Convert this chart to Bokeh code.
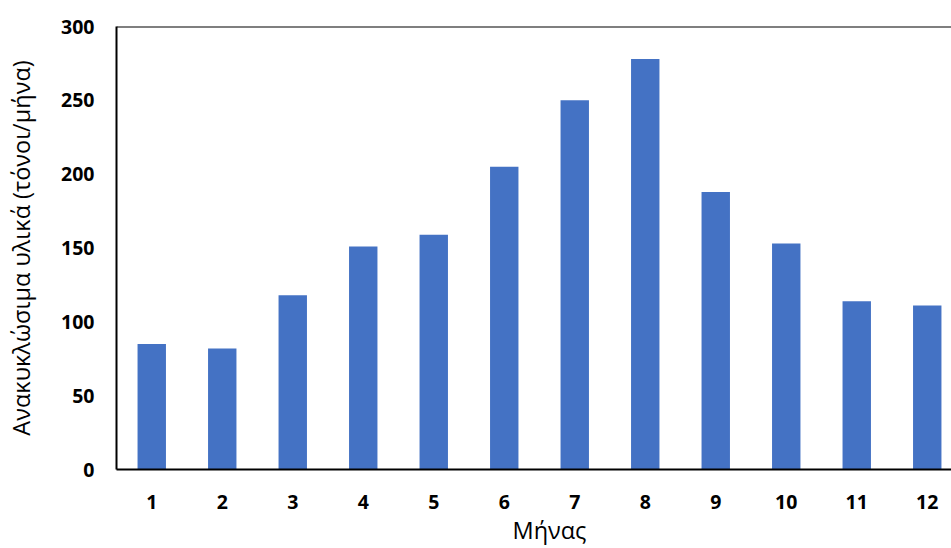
from bokeh.plotting import figure
from bokeh.models import Range1d, Span, FixedTicker, Title
from bokeh.embed import file_html
from bokeh.resources import INLINE

months = [1, 2, 3, 4, 5, 6, 7, 8, 9, 10, 11, 12]
values = [85, 82, 118, 151, 159, 205, 250, 278, 188, 153, 114, 111]
y_ticks = [0, 50, 100, 150, 200, 250, 300]
x_label = "Μήνας"
y_label = "Ανακυκλώσιμα υλικά (τόνοι/μήνα)"

p = figure(width=951, height=548, output_backend="svg", toolbar_location=None,
           x_range=Range1d(0.5, 12.344), y_range=Range1d(0, 300),
           min_border_left=116, min_border_top=26, min_border_bottom=79,
           min_border_right=0)
p.outline_line_color = None
p.background_fill_color = "white"
p.border_fill_color = "white"

p.vbar(x=months, top=values, width=0.403, color="#4472C4", line_color=None)

p.add_layout(Span(location=300, dimension="width", line_color="black", line_width=2))

p.xgrid.grid_line_color = None
p.ygrid.grid_line_color = None

for ax in (p.xaxis[0], p.yaxis[0]):
    ax.axis_line_color = "black"
    ax.axis_line_width = 2
    ax.major_tick_line_color = None
    ax.minor_tick_line_color = None
    ax.major_tick_out = 0
    ax.major_tick_in = 0
    ax.major_label_text_font = "Open Sans"
    ax.major_label_text_font_style = "bold"
    ax.major_label_text_font_size = "19.5px"
    ax.major_label_text_color = "black"

p.xaxis.ticker = FixedTicker(ticks=months)
p.yaxis.ticker = FixedTicker(ticks=y_ticks)
p.xaxis.major_label_standoff = 25
p.yaxis.major_label_standoff = 22

# y axis title
p.yaxis.axis_label = y_label
p.yaxis.axis_label_text_font = "Open Sans"
p.yaxis.axis_label_text_font_style = "normal"
p.yaxis.axis_label_text_font_size = "23.5px"
p.yaxis.axis_label_text_color = "black"
p.yaxis.axis_label_standoff = 21

# x axis title (as a title below the axis so it can be offset)
p.add_layout(Title(text=x_label, align="left", offset=396, standoff=0,
                   text_font="Open Sans", text_font_style="normal",
                   text_font_size="23.5px", text_color="black"), "below")

open("out.html", "w").write(file_html(p, INLINE))
